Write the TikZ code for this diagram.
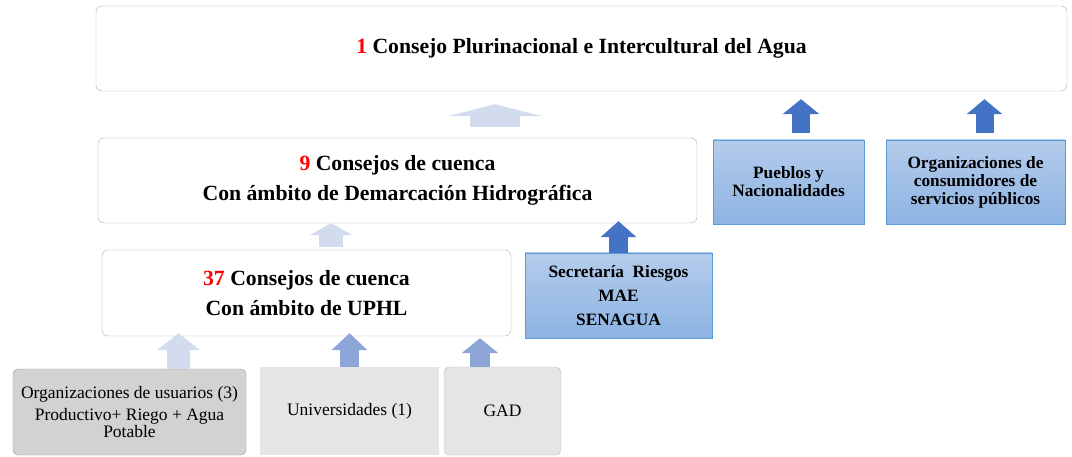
\documentclass[tikz,border=0pt]{standalone}
\usepackage{fontspec}
\setmainfont{Liberation Serif}
\usetikzlibrary{
  positioning, arrows.meta,
  shapes.geometric
}
\definecolor{arrowdark}{HTML}{4472C4}
\definecolor{arrowmid}{HTML}{8EA5D8}
\definecolor{arrowpale}{HTML}{D3DBEE}
\definecolor{bluetop}{HTML}{B4CCEC}
\definecolor{bluebot}{HTML}{8DB3E2}
\definecolor{blueline}{HTML}{5B9BD5}
\tikzset{
  consejo/.style={draw=gray!65, rounded corners=6pt, fill=white, align=center,
    font=\bfseries\fontsize{21.7}{30}\selectfont},
  actor/.style={draw=blueline, top color=bluetop, bottom color=bluebot, align=center,
    font=\bfseries\fontsize{17.3}{18}\selectfont},
  sector/.style={fill=gray!20, align=center, font=\fontsize{17.5}{17}\selectfont},
  fat/.style n args={3}{line width=#1, -{Triangle[width=#2,length=#3]}}
}

\begin{document}
\begin{tikzpicture}[x=1pt, y=-1pt]
      \useasboundingbox (0,0) rectangle (1072,457); %edit here for the margins
      % consejos
      \node[consejo, minimum width=971pt, minimum height=85pt] (plurinacional) at (581.5,48.5)
        {\textcolor{red}{1} Consejo Plurinacional e Intercultural del Agua};
      \node[consejo, minimum width=599pt, minimum height=85pt] (demarcacion) at (397.5,180.5)
        {\textcolor{red}{9} Consejos de cuenca\\Con ámbito de Demarcación Hidrográfica};
      \node[consejo, minimum width=409pt, minimum height=86pt] (uphl) at (306.5,293)
        {\textcolor{red}{37} Consejos de cuenca\\Con ámbito de UPHL};
      % actores
      \node[actor, minimum width=187pt, minimum height=85pt] (secretaria) at (618.5,295.5)
        {Secretaría\ \ Riesgos\\[6pt]MAE\\[6pt]SENAGUA};
      \node[actor, minimum width=151pt, minimum height=84pt] (pueblos) at (788.5,182)
        {Pueblos y\\Nacionalidades};
      \node[actor, minimum width=179pt, minimum height=84pt] (consumidores) at (975.5,182)
        {Organizaciones de\\consumidores de\\servicios públicos};
      % sectores
      \node[sector, draw=gray!80, fill=gray!35, rounded corners=5pt, minimum width=233pt, minimum height=86pt] (usuarios) at (129.5,412)
        {Organizaciones de usuarios (3)\\[5pt]Productivo+ Riego + Agua\\Potable};
      \node[sector, minimum width=179pt, minimum height=88pt] (universidades) at (349.5,411) {Universidades (1)};
      \node[sector, draw=gray!50, rounded corners=5pt, minimum width=117pt, minimum height=88pt] (gad) at (502.5,411) {GAD};
      % flechas
      \draw[fat={50pt}{94pt}{12pt}, arrowpale, shorten <=11pt, shorten >=13pt]
        ([xshift=97.5pt]demarcacion.north) -- ([xshift=97.5pt]demarcacion.north |- plurinacional.south);
      \draw[fat={24pt}{42pt}{12pt}, arrowpale, shorten <=3pt]
        ([xshift=24.5pt]uphl.north) -- ([xshift=24.5pt]uphl.north |- demarcacion.south);
      \draw[fat={19pt}{35pt}{16pt}, arrowdark, shorten >=-2pt]
        (secretaria.north) -- (secretaria.north |- demarcacion.south);
      \draw[fat={18pt}{36pt}{15pt}, arrowdark, shorten <=7pt, shorten >=8pt]
        ([xshift=12.5pt]pueblos.north) -- ([xshift=12.5pt]pueblos.north |- plurinacional.south);
      \draw[fat={18pt}{35pt}{15pt}, arrowdark, shorten <=7pt, shorten >=8pt]
        ([xshift=9pt]consumidores.north) -- ([xshift=9pt]consumidores.north |- plurinacional.south);
      \draw[fat={23pt}{42pt}{17pt}, arrowpale, shorten >=-3pt]
        ([xshift=49pt]usuarios.north) -- ([xshift=49pt]usuarios.north |- uphl.south);
      \draw[fat={19pt}{35pt}{17pt}, arrowmid, shorten >=-3pt]
        (universidades.north) -- (universidades.north |- uphl.south);
      \draw[fat={20pt}{36pt}{15pt}, arrowmid, shorten >=2pt]
        ([xshift=-22.5pt]gad.north) -- ([xshift=-22.5pt]gad.north |- uphl.south);
\end{tikzpicture}
\end{document}
